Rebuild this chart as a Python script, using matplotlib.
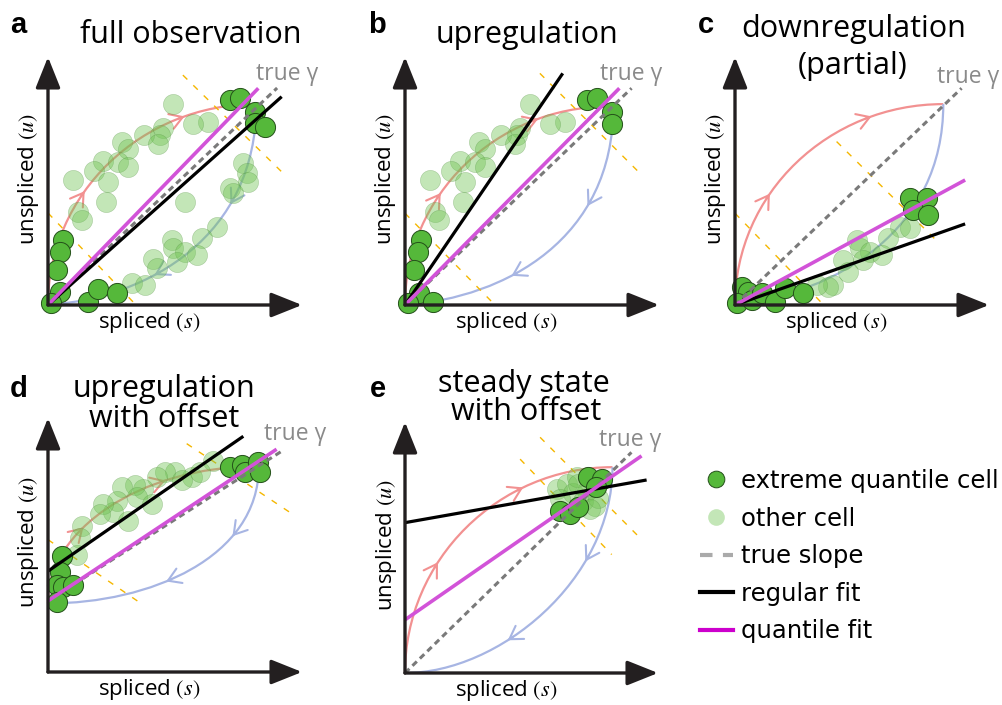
import matplotlib
matplotlib.use('Agg')
import numpy as np
import matplotlib.pyplot as plt
from matplotlib.path import Path
from matplotlib.patches import PathPatch
from matplotlib.bezier import BezierSegment
from matplotlib.lines import Line2D

plt.rcParams['mathtext.fontset'] = 'stix'

# ---- data (spliced s, unspliced u), axis length = 100 ----
# a: full observation
a_other = [(49.1, 81.0), (63.1, 73.9), (57.0, 73.0), (45.4, 71.5), (44.1, 68.5), (37.8, 68.5),
           (43.4, 64.9), (29.0, 65.9), (31.6, 62.8), (21.8, 58.2), (27.7, 57.8), (31.6, 55.5),
           (18.1, 54.2), (23.7, 49.7), (9.7, 50.4), (22.8, 41.7), (11.9, 37.6), (13.3, 34.3),
           (53.9, 41.7), (76.9, 57.1), (78.2, 53.1), (78.9, 49.7), (71.7, 47.0), (73.0, 45.0),
           (66.4, 31.6), (60.5, 26.9), (48.7, 26.2), (49.3, 22.8), (53.9, 21.5), (50.7, 17.5),
           (58.5, 20.2), (41.5, 18.4), (42.8, 14.8), (33.0, 8.7), (38.2, 8.1)]
a_extreme = [(71.7, 82.7), (75.6, 83.6), (81.5, 77.9), (81.5, 73.3), (85.4, 71.9),
             (6.0, 26.2), (4.7, 21.2), (3.4, 14.1), (4.7, 5.4), (1.1, 0.7),
             (15.9, 1.3), (19.8, 6.3), (27.0, 4.7)]
a_true = [(0, 0), (90.2, 87.5)]
a_regular = [(0, 0), (92.0, 84.0)]
a_quantile = [(0, 0), (82.8, 87.4)]
a_cut = [[(0, 37.1), (35.4, -0.8)], [(53.1, 92.7), (93.3, 52.4)]]
a_up = [(0, 0), (0, 45), (37, 81), (82, 81)]
a_down = [(82, 81), (82, 28), (40, 3), (0, 0)]

# b: upregulation
b_other = a_other[:18]
b_extreme = [(71.5, 82.7), (75.5, 83.6), (81.4, 77.9), (81.4, 73.0),
             (6.2, 26.2), (5.2, 21.2), (3.5, 14.1), (5.6, 4.7), (1.3, 0.7), (10.9, 1.3)]
b_true = [(0, 0), (89.2, 87.4)]
b_regular = [(0, 0), (62.1, 93.4)]
b_quantile = [(0, 0), (84.4, 87.4)]
b_cut = [[(0, 37.0), (36.1, -0.7)], [(53.1, 93.4), (93.2, 52.4)]]
b_up = [(0, 0), (0, 44), (36, 80), (80, 80)]
b_down = [(82, 80), (82, 27), (40, 3), (0, 0)]

# c: downregulation (partial)
c_other = [(65.0, 31.6), (68.9, 30.9), (60.4, 26.9), (47.9, 26.2), (49.2, 22.8), (53.1, 21.5),
           (57.8, 20.2), (50.5, 18.1), (42.6, 18.1), (44.6, 13.4), (38.7, 8.1), (36.7, 7.4),
           (32.2, 8.1)]
c_extreme = [(68.9, 43.0), (75.5, 43.0), (70.2, 38.3), (76.1, 36.3),
             (2.6, 7.4), (5.2, 5.4), (0.7, 0.7), (6.6, 2.0), (10.5, 4.7), (15.7, 1.3),
             (19.7, 6.7), (26.9, 4.7)]
c_true = [(0, 0), (89.2, 87.4)]
c_regular = [(0, 0), (90.6, 32.7)]
c_quantile = [(0, 0), (90.6, 50.4)]
c_cut = [[(0, 37.0), (35.4, -0.5)], [(40.0, 65.9), (80.0, 25.3)]]
c_up = [(0, 0), (0, 45), (37, 81), (82, 81)]
c_down = [(82, 81), (82, 30), (40, 5), (0, 0)]

# d: upregulation with offset
d_other = [(65.1, 83.2), (56.6, 76.8), (50.0, 78.8), (46.1, 78.8), (42.8, 76.8), (37.5, 72.1),
           (34.3, 73.5), (34.9, 68.8), (29.0, 72.8), (27.0, 67.5), (25.7, 62.8), (31.6, 59.5),
           (21.8, 66.1), (20.5, 62.1), (40.8, 66.1), (13.3, 57.5), (12.6, 52.8), (11.3, 46.1),
           (52.6, 75.7), (59.8, 78.8)]
d_extreme = [(71.7, 80.8), (76.3, 81.5), (77.6, 78.8), (82.8, 82.8), (83.5, 78.8),
             (5.4, 45.5), (4.7, 39.5), (3.4, 34.1), (6.0, 33.5), (10.0, 34.1), (3.4, 27.5)]
d_true = [(0, 28.0), (91.8, 86.8)]
d_regular = [(0, 39.7), (76.9, 92.8)]
d_quantile = [(0, 28.0), (90.0, 87.7)]
d_cut = [[(0, 52.1), (36.9, 26.8)], [(54.6, 89.9), (95.3, 62.8)]]
d_up = [(0, 28), (0, 55), (35, 81), (83, 81)]
d_down = [(83, 81), (83, 45), (40, 27), (0, 27)]

# e: steady state with offset
e_other = [(60.0, 73.2), (63.9, 75.2), (66.5, 71.9), (71.8, 72.5), (70.5, 68.5), (75.1, 66.5),
           (76.4, 69.9), (67.9, 77.9), (73.1, 65.2), (68.5, 75.2), (61.3, 69.2)]
e_extreme = [(72.5, 77.9), (77.7, 77.2), (75.5, 74.0), (61.3, 64.5), (65.2, 63.2), (68.5, 66.0)]
e_true = [(0, 0), (89.5, 87.9)]
e_regular = [(0, 59.9), (95.5, 76.9)]
e_quantile = [(0, 21.2), (93.5, 86.5)]
e_cut = [[(53.4, 93.9), (93.5, 53.2)], [(45.5, 85.2), (81.7, 47.2)]]
e_up = [(0, 0), (0, 45), (37, 82), (82, 82)]
e_down = [(82, 82), (82, 37), (37, 0), (0, 0)]

titles = {'a': ['full observation'], 'b': ['upregulation'],
          'c': ['downregulation', '(partial)'], 'd': ['upregulation', 'with offset'],
          'e': ['steady state', 'with offset']}

panels = {
    'a': dict(other=a_other, extreme=a_extreme, true=a_true, reg=a_regular, quant=a_quantile,
              cut=a_cut, up=a_up, down=a_down, up_t=[0.38, 0.78], down_t=[0.3, 0.64]),
    'b': dict(other=b_other, extreme=b_extreme, true=b_true, reg=b_regular, quant=b_quantile,
              cut=b_cut, up=b_up, down=b_down, up_t=[0.38, 0.78], down_t=[0.3, 0.64]),
    'c': dict(other=c_other, extreme=c_extreme, true=c_true, reg=c_regular, quant=c_quantile,
              cut=c_cut, up=c_up, down=c_down, up_t=[0.37, 0.78], down_t=[]),
    'd': dict(other=d_other, extreme=d_extreme, true=d_true, reg=d_regular, quant=d_quantile,
              cut=d_cut, up=d_up, down=d_down, up_t=[0.38, 0.72], down_t=[0.3, 0.6]),
    'e': dict(other=e_other, extreme=e_extreme, true=e_true, reg=e_regular, quant=e_quantile,
              cut=e_cut, up=e_up, down=e_down, up_t=[0.36, 0.72], down_t=[0.3, 0.64]),
}

# layout (pixels): origin x, origin y, axis width, axis height
W, H = 1002, 705
geom = {'a': (48, 305, 254, 248), 'b': (405, 305, 254, 248), 'c': (735, 305, 254, 248),
        'd': (48, 672, 254, 254), 'e': (405, 673, 253, 251)}
# title lines: (x centre, baseline) in axes fraction
title_pos = {'a': [(0.563, 1.058)], 'b': [(0.482, 1.058)],
             'c': [(0.469, 1.079), (0.462, 0.931)],
             'd': [(0.457, 1.084), (0.459, 0.966)],
             'e': [(0.47, 1.121), (0.48, 1.008)]}
gamma_pos = {'a': (0.943, 0.907), 'b': (0.89, 0.907), 'c': (0.917, 0.895),
             'd': (0.972, 0.913), 'e': (0.889, 0.904)}
letter_px = {'a': (10, 33), 'b': (368, 33), 'c': (698, 33), 'd': (10, 397), 'e': (370, 397)}

RED = '#f29191'
BLUE = '#a7b5e3'
MAG = '#d253d8'
YEL = '#f5b700'
DARKG = '#55b83a'
LIGHTG = '#72c455'
AXC = '#231f20'
TFONT = 'Open Sans'
CELL = 210

fig = plt.figure(figsize=(W / 100, H / 100), dpi=100)

def arrow_on(ax, seg, t, color):
    p = seg.point_at_t(t)
    q = seg.point_at_t(t - 0.02)
    ax.annotate('', xy=p, xytext=q,
                arrowprops=dict(arrowstyle='->,head_length=0.45,head_width=0.28', color=color,
                                lw=1.5, shrinkA=0, shrinkB=0, mutation_scale=20),
                annotation_clip=False, zorder=2)

for key, p in panels.items():
    ox, oy, aw, ah = geom[key]
    ax = fig.add_axes([ox / W, (H - oy) / H, aw / W, ah / H])
    ax.set_xlim(0, 100)
    ax.set_ylim(0, 100)
    ax.axis('off')

    # axes arrows
    for tip in [(1, 0), (0, 1)]:
        ax.annotate('', xy=tip, xytext=(0, 0), xycoords='axes fraction',
                    textcoords='axes fraction',
                    arrowprops=dict(arrowstyle='-|>,head_length=0.95,head_width=0.38',
                                    mutation_scale=20, lw=2.4, color=AXC,
                                    shrinkA=0, shrinkB=0), zorder=10)

    # trajectories
    codes = [Path.MOVETO, Path.CURVE4, Path.CURVE4, Path.CURVE4]
    for ctrl, col, ts in [(p['up'], RED, p['up_t']), (p['down'], BLUE, p['down_t'])]:
        ax.add_patch(PathPatch(Path(ctrl, codes), fill=False, edgecolor=col, lw=1.6,
                               zorder=1, clip_on=False))
        seg = BezierSegment(np.array(ctrl, dtype=float))
        for t in ts:
            arrow_on(ax, seg, t, col)

    # quantile cut lines
    for ln in p['cut']:
        xs, ys = zip(*ln)
        ax.plot(xs, ys, color=YEL, lw=1.0, dashes=(4.5, 6), zorder=2, clip_on=False)

    # cells
    xs, ys = zip(*p['other'])
    ax.scatter(xs, ys, s=CELL, color=LIGHTG, alpha=0.42, edgecolors='#4f8f3c',
               linewidths=0.4, zorder=3, clip_on=False)
    xs, ys = zip(*p['extreme'])
    ax.scatter(xs, ys, s=CELL, color=DARKG, edgecolors='#24501a', linewidths=0.7,
               zorder=4, clip_on=False)

    # fits
    xs, ys = zip(*p['true'])
    ax.plot(xs, ys, color='#7a7a7a', lw=2.2, dashes=(2, 1.4), zorder=5, clip_on=False)
    xs, ys = zip(*p['reg'])
    ax.plot(xs, ys, color='black', lw=2.3, zorder=6, clip_on=False, solid_capstyle='butt')
    xs, ys = zip(*p['quant'])
    ax.plot(xs, ys, color=MAG, lw=2.6, zorder=7, clip_on=False, solid_capstyle='butt')

    # texts
    gx, gy = gamma_pos[key]
    ax.text(gx, gy, 'true γ', transform=ax.transAxes, ha='center', va='baseline',
            fontsize=16.5, color='#8a8a8a', family=TFONT)
    for line, (tx, ty) in zip(titles[key], title_pos[key]):
        ax.text(tx, ty, line, transform=ax.transAxes, ha='center', va='baseline',
                fontsize=22, family=TFONT)
    ax.text(0.40, -0.07, r'spliced $(\mathit{s})$', transform=ax.transAxes, ha='center',
            va='center', fontsize=16, family=TFONT)
    ax.text(-0.075, 0.51, r'unspliced $(\mathit{u})$', transform=ax.transAxes, ha='center',
            va='center', rotation=90, fontsize=16, family=TFONT)
    lx, ly = letter_px[key]
    fig.text(lx / W, 1 - ly / H, key, fontsize=21, fontweight='bold',
             family='Liberation Sans', ha='left', va='baseline')

handles = [
    Line2D([], [], ls='none', marker='o', ms=12, mfc=DARKG, mec='#24501a', mew=0.7),
    Line2D([], [], ls='none', marker='o', ms=12, mfc='#c3e6b7', mec='none'),
    Line2D([], [], color='#aaaaaa', lw=3, dashes=(3, 2.5)),
    Line2D([], [], color='black', lw=3),
    Line2D([], [], color='#cc00cc', lw=3),
]
labels = ['extreme quantile cell', 'other cell', 'true slope', 'regular fit', 'quantile fit']
fig.legend(handles, labels, loc='upper left', bbox_to_anchor=(700 / W, 1 - 469 / H),
           frameon=False, labelspacing=0.56, handlelength=1.35,
           handletextpad=0.35, borderpad=0, borderaxespad=0,
           prop={'family': 'DejaVu Sans', 'size': 17.5})

fig.savefig('out.png', dpi=100)
